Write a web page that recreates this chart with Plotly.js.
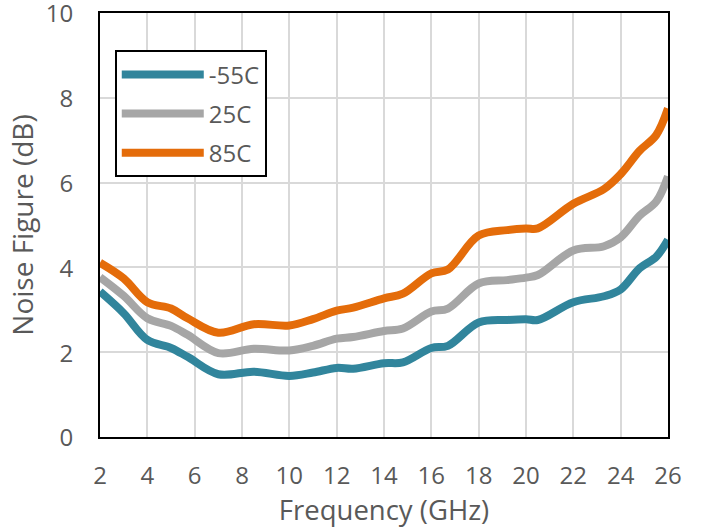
<!DOCTYPE html>
<html>
<head>
<meta charset="utf-8">
<script src="https://cdn.plot.ly/plotly-3.0.1.min.js"></script>
<style>html,body{margin:0;padding:0;background:#fff;}#chart{width:701px;height:531px;}</style>
</head>
<body>
<div id="chart"></div>
<script>
const freq = [2, 3, 4, 5, 5.7, 7, 8.5, 10, 11, 12, 12.7, 14, 14.8, 16, 16.7, 18, 19.2, 20, 20.5, 22, 23.3, 24, 24.8, 25.5, 26];
const nfM55 = [3.43, 2.92, 2.29, 2.10, 1.89, 1.48, 1.54, 1.44, 1.52, 1.63, 1.61, 1.74, 1.76, 2.10, 2.15, 2.70, 2.76, 2.78, 2.76, 3.18, 3.32, 3.48, 3.98, 4.25, 4.65];
const nf25 = [3.77, 3.33, 2.80, 2.62, 2.41, 1.98, 2.08, 2.04, 2.15, 2.32, 2.36, 2.50, 2.56, 2.96, 3.03, 3.62, 3.70, 3.76, 3.82, 4.40, 4.50, 4.71, 5.22, 5.55, 6.15];
const nf85 = [4.11, 3.74, 3.18, 3.03, 2.80, 2.46, 2.66, 2.63, 2.78, 2.98, 3.05, 3.27, 3.38, 3.86, 3.95, 4.75, 4.88, 4.92, 4.92, 5.50, 5.85, 6.20, 6.75, 7.12, 7.75];
const seriesNames = ['-55C', '25C', '85C'];
const seriesColors = ['#31859C', '#A6A6A6', '#E46C0A'];
const xTicks = [2, 4, 6, 8, 10, 12, 14, 16, 18, 20, 22, 24, 26];
const yTicks = [0, 2, 4, 6, 8, 10];

const font = 'Open Sans, Noto Sans, sans-serif';
const ys = [nfM55, nf25, nf85];
const traces = ys.map((y, i) => ({
  x: freq, y: y, type: 'scatter', mode: 'lines', name: seriesNames[i],
  legendgroup: 'g' + i,
  line: {color: seriesColors[i], width: 8, shape: 'spline', smoothing: 1}
}));

const layout = {
  width: 701, height: 531,
  margin: {l: 100, r: 33, t: 13, b: 94, autoexpand: false},
  paper_bgcolor: '#fff', plot_bgcolor: '#fff',
  font: {family: font, color: '#595959', size: 24},
  showlegend: true,
  legend: {
    x: 0.026, y: 0.912, xanchor: 'left', yanchor: 'top',
    bgcolor: '#fff', bordercolor: '#000', borderwidth: 2,
    font: {family: font, size: 24, color: '#595959'},
    traceorder: 'grouped', tracegroupgap: 5, itemwidth: 82
  },
  xaxis: {
    range: [2, 26], tickvals: xTicks, ticktext: xTicks.map(String),
    showgrid: true, gridcolor: '#D9D9D9', gridwidth: 2,
    showline: true, linecolor: '#000', linewidth: 2, mirror: true,
    zeroline: false, ticks: 'outside', ticklen: 16, tickcolor: 'rgba(0,0,0,0)',
    automargin: false,
    tickfont: {family: font, size: 24, color: '#595959'},
    title: {text: 'Frequency (GHz)', font: {family: font, size: 27.5, color: '#595959'}, standoff: 0}
  },
  yaxis: {
    range: [0, 10], tickvals: yTicks, ticktext: yTicks.map(String),
    showgrid: true, gridcolor: '#D9D9D9', gridwidth: 2,
    showline: true, linecolor: '#000', linewidth: 2, mirror: true,
    zeroline: false, ticks: 'outside', ticklen: 20, tickcolor: 'rgba(0,0,0,0)',
    ticklabeloverflow: 'allow', automargin: false, ticklabelshift: 1,
    tickfont: {family: font, size: 24, color: '#595959'},
    title: {text: 'Noise Figure (dB)', font: {family: font, size: 28, color: '#595959'}, standoff: 4}
  }
};
Plotly.newPlot('chart', traces, layout, {displayModeBar: false, staticPlot: true});
</script>
</body>
</html>
